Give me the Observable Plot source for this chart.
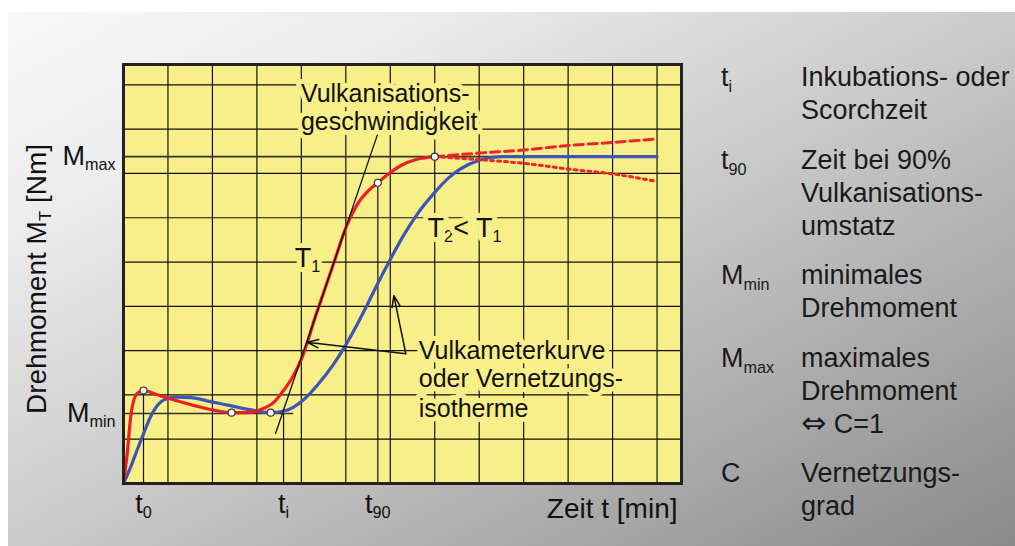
<!DOCTYPE html>
<html><head><meta charset="utf-8">
<script src="https://cdn.jsdelivr.net/npm/d3@7"></script>
<script src="https://cdn.jsdelivr.net/npm/@observablehq/plot@0.6"></script>
<style>
html,body{margin:0;padding:0;background:#fff;}
#wrap{position:relative;width:1015px;height:546px;overflow:hidden;font-family:"Liberation Sans",Arial,sans-serif;}
#bg{position:absolute;left:8px;top:12px;right:0;bottom:0;background:linear-gradient(to bottom right,#f8f8f8 0%,#ebebeb 22%,#c8c8c8 52%,#8a8a8a 100%);}
#chart{position:absolute;left:0;top:0;}
#legend{position:absolute;left:721px;top:61px;color:#1a1a1a;font-size:27px;line-height:33px;display:flex;flex-direction:column;gap:16.5px;white-space:nowrap;}
.row{display:flex;}
.sym{width:80px;}
.sub{font-size:60%;position:relative;top:0.4em;}
.dv{font-family:"DejaVu Sans",sans-serif;font-size:30px;line-height:0;}
</style></head><body>
<div id="wrap"><div id="bg"></div><div id="chart"></div><div id="legend"></div></div>
<script>
// ---- data (time in grid units, torque in grid units) ----
const redT = [0, 0.09, 0.16, 0.3, 0.45, 0.68, 0.99, 1.44, 1.96, 2.43, 2.8, 3.09, 3.38, 3.6, 3.8, 3.99, 4.14, 4.28, 4.44, 4.73, 5.0, 5.27, 5.5, 5.72, 6.0, 6.24, 6.6, 7.0];
const redM = [0, 0.74, 1.49, 2.03, 2.1, 2.03, 1.93, 1.8, 1.67, 1.6, 1.6, 1.67, 1.83, 2.1, 2.4, 2.78, 3.2, 3.66, 4.13, 4.98, 5.77, 6.32, 6.6, 6.79, 7.02, 7.18, 7.32, 7.38];
const blueT = [0, 0.16, 0.3, 0.45, 0.6, 0.76, 0.99, 1.21, 1.51, 1.96, 2.48, 2.93, 3.31, 3.69, 3.99, 4.36, 4.73, 5.0, 5.27, 5.5, 5.72, 6.0, 6.31, 6.62, 6.98, 7.3, 7.59, 8.0, 8.5, 10, 12];
const blueM = [0, 0.37, 0.74, 1.12, 1.49, 1.76, 1.92, 1.95, 1.94, 1.85, 1.74, 1.65, 1.6, 1.66, 1.84, 2.22, 2.7, 3.13, 3.62, 4.07, 4.52, 5.06, 5.62, 6.1, 6.55, 6.89, 7.11, 7.3, 7.38, 7.38, 7.38];
const upT = [7, 8, 9, 10, 11, 12];
const upM = [7.38, 7.46, 7.53, 7.63, 7.70, 7.78];
const downT = [7, 8, 9, 10, 11, 12];
const downM = [7.38, 7.31, 7.23, 7.10, 6.99, 6.82];
const markT = [0.45, 2.43, 3.31, 5.72, 7.0];
const markM = [2.1, 1.6, 1.6, 6.79, 7.38];
const tickT = [0.45, 3.6, 5.72];
const tickLabels = ["t_{0}", "t_{i}", "t_{90}"];
const tickTop = [2.1, 1.58, 6.79];
const levelM = [1.58, 7.38];
const levelLabels = ["M_{min}", "M_{max}"];
const levelEnd = [3.83, 12];
const gridT = [1, 2, 3, 4, 5, 6, 7, 8, 9, 10, 11, 12];
const gridM = [1, 2, 3, 4, 5, 6, 7, 8, 9];
const tangentT = [3.42, 5.72];
const tangentM = [1.13, 7.9];
const arrowFromT = [6.35, 6.35];
const arrowFromM = [2.93, 2.93];
const arrowToT = [4.13, 6.08];
const arrowToM = [3.19, 4.24];
const noteText = ["Vulkanisations-", "geschwindigkeit", "Vulkameterkurve", "oder Vernetzungs-", "isotherme"];
const noteT = [3.99, 3.99, 6.64, 6.64, 6.64];
const noteM = [8.62, 7.97, 2.82, 2.17, 1.51];
const tempText = ["T_{1}", "T_{2}< T_{1}"];
const tempT = [3.85, 6.84];
const tempM = [4.88, 5.56];
const xMax = 12.55, yMax = 9.46;
const legendSymbols = ["t_{i}", "t_{90}", "M_{min}", "M_{max}", "C"];
const legendLines = [
  ["Inkubations- oder", "Scorchzeit"],
  ["Zeit bei 90%", "Vulkanisations-", "umstatz"],
  ["minimales", "Drehmoment"],
  ["maximales", "Drehmoment", "\u21D4 C=1"],
  ["Vernetzungs-", "grad"]
];

// ---- build tables ----
const zip = (a, b) => a.map((v, i) => ({t: v, m: b[i]}));
const red = zip(redT, redM), blue = zip(blueT, blueM);
const up = zip(upT, upM), down = zip(downT, downM);
const marks = zip(markT, markM);
const tickLbl = new Map(tickT.map((t, i) => [t, tickLabels[i]]));
const levelLbl = new Map(levelM.map((m, i) => [m, levelLabels[i]]));
const levels = levelM.map((m, i) => ({m, end: levelEnd[i]}));
const tmarks = tickT.map((t, i) => ({t, top: tickTop[i]}));
const arrows = arrowFromT.map((t, i) => ({x1: t, y1: arrowFromM[i], x2: arrowToT[i], y2: arrowToM[i]}));
const notes = noteText.map((s, i) => ({s, t: noteT[i], m: noteM[i]}));
const temps = tempText.map((s, i) => ({s, t: tempT[i], m: tempM[i]}));

const YEL = "#f8ef88", INK = "#111";
const halo = {stroke: YEL, strokeWidth: 10, paintOrder: "stroke", strokeLinejoin: "round", fill: INK};

const chart = Plot.plot({
  width: 700, height: 546,
  marginLeft: 123, marginRight: 19, marginTop: 64, marginBottom: 63,
  x: {domain: [0, xMax]},
  y: {domain: [0, yMax]},
  style: {background: "transparent", fontFamily: "'Liberation Sans', Arial, sans-serif", fontSize: "27px", color: INK, overflow: "visible"},
  marks: [
    Plot.frame({fill: YEL, stroke: "none"}),
    Plot.ruleX(gridT, {y1: 0, y2: yMax, stroke: INK, strokeWidth: 1.2}),
    Plot.ruleY(gridM, {x1: 0, x2: xMax, stroke: INK, strokeWidth: 1.2}),
    Plot.ruleY(levels, {y: "m", x1: 0, x2: "end", stroke: "#333", strokeWidth: 1.6}),
    Plot.ruleX(tmarks, {x: "t", y1: 0, y2: "top", stroke: INK, strokeWidth: 1.2}),
    Plot.line(blue, {x: "t", y: "m", stroke: "#3c55b9", strokeWidth: 3.2, curve: "monotone-x"}),
    Plot.line(up, {x: "t", y: "m", stroke: "#f02525", strokeWidth: 3, strokeDasharray: "9,5", curve: "monotone-x"}),
    Plot.line(down, {x: "t", y: "m", stroke: "#f02525", strokeWidth: 3, strokeDasharray: "3,4", curve: "monotone-x"}),
    Plot.line(red, {x: "t", y: "m", stroke: "#ee1d23", strokeWidth: 3.2, curve: "monotone-x"}),
    Plot.line(zip(tangentT, tangentM), {x: "t", y: "m", stroke: INK, strokeWidth: 1.3}),
    Plot.arrow(arrows, {x1: "x1", y1: "y1", x2: "x2", y2: "y2", stroke: INK, strokeWidth: 1.5, headLength: 12, headAngle: 40}),
    Plot.dot(marks, {x: "t", y: "m", r: 3.5, fill: "white", stroke: "#333", strokeWidth: 1.2}),
    Plot.text(notes, {x: "t", y: "m", text: "s", textAnchor: "start", lineAnchor: "bottom", fontSize: 25, ...halo}),
    Plot.text(temps, {x: "t", y: "m", text: "s", textAnchor: "start", lineAnchor: "bottom", fontSize: 27, ...halo}),
    Plot.frame({stroke: "#222", strokeWidth: 3}),
    Plot.axisX({ticks: tickT, tickFormat: d => tickLbl.get(d), tickSize: 0, tickPadding: 10.5, fontSize: 27, label: null}),
    Plot.axisY({ticks: levelM, tickFormat: d => levelLbl.get(d), tickSize: 0, tickPadding: 8, fontSize: 27, label: null}),
    Plot.text(["Drehmoment M_{T} [Nm]"], {frameAnchor: "left", rotate: -90, dx: -86, dy: 5, fontSize: 28, textAnchor: "middle", lineAnchor: "middle", fill: INK}),
    Plot.text(["Zeit t [min]"], {frameAnchor: "bottom-right", textAnchor: "end", lineAnchor: "bottom", dx: -4, dy: 34, fontSize: 28, fill: INK})
  ]
});
document.getElementById("chart").appendChild(chart);

// subscripts "_{...}" -> tspans
function applySubs(root) {
  const NS = "http://www.w3.org/2000/svg";
  const walker = document.createTreeWalker(root, NodeFilter.SHOW_TEXT);
  const nodes = [];
  while (walker.nextNode()) if (walker.currentNode.nodeValue.includes("_{")) nodes.push(walker.currentNode);
  for (const node of nodes) {
    const parent = node.parentNode;
    const fs = parseFloat(getComputedStyle(parent).fontSize) || 27;
    const shift = fs * 0.18;
    const parts = node.nodeValue.split(/(_\{[^}]*\})/);
    const frag = document.createDocumentFragment();
    let shifted = false;
    for (const p of parts) {
      if (!p) continue;
      const m = p.match(/^_\{([^}]*)\}$/);
      const ts = document.createElementNS(NS, "tspan");
      if (m) {
        ts.textContent = m[1];
        ts.setAttribute("font-size", (fs * 0.6).toFixed(1));
        ts.setAttribute("dy", shift.toFixed(1));
        shifted = true;
      } else {
        ts.textContent = p;
        if (shifted) { ts.setAttribute("dy", (-shift).toFixed(1)); shifted = false; }
      }
      frag.appendChild(ts);
    }
    parent.replaceChild(frag, node);
  }
}
applySubs(chart);

// legend
const subHtml = s => s.replace(/_\{([^}]*)\}/g, '<span class="sub">$1</span>');
const escapeArrow = s => s.replace("\u21D4", '<span class="dv">\u21D4</span>');
const leg = d3.select("#legend");
legendSymbols.forEach((s, i) => {
  const row = leg.append("div").attr("class", "row");
  row.append("div").attr("class", "sym").html(subHtml(s));
  const txt = row.append("div");
  legendLines[i].forEach(l => txt.append("div").html(escapeArrow(l)));
});
</script></body></html>
